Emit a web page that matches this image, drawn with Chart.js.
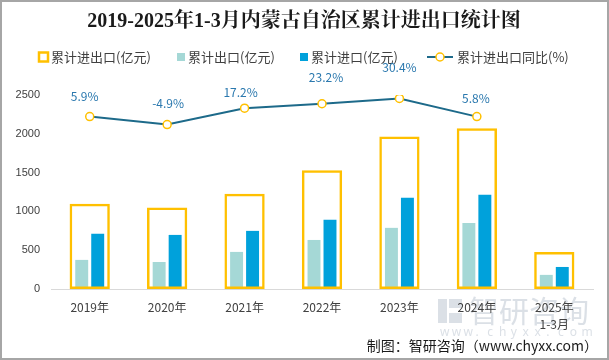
<!DOCTYPE html>
<html>
<head>
<meta charset="utf-8">
<script src="https://cdn.jsdelivr.net/npm/chart.js@4.4.1/dist/chart.umd.min.js"></script>
<style>
  html, body { margin: 0; padding: 0; background: #fff; }
  #wrap { width: 609px; height: 360px; position: relative; }
</style>
</head>
<body>
<div id="wrap"><canvas id="chart" width="609" height="360"></canvas></div>
<script>
// data
const years = ["2019年", "2020年", "2021年", "2022年", "2023年", "2024年", ["2025年", "1-3月"]];
const totalValues = [1098, 1050, 1228, 1530, 1966, 2070, 477];
const exportValues = [375, 348, 478, 632, 788, 852, 182];
const importValues = [712, 697, 749, 891, 1176, 1215, 284];
const growthRates = [5.9, -4.9, 17.2, 23.2, 30.4, 5.8, null];

const titleText = "2019-2025年1-3月内蒙古自治区累计进出口统计图";
const legendNames = ["累计进出口(亿元)", "累计出口(亿元)", "累计进口(亿元)", "累计进出口同比(%)"];
const sourceText = "制图：智研咨询（www.chyxx.com）";

const YELLOW = "#FFC000";
const TEAL = "#A5D8D6";
const BLUE = "#00A1DB";
const LINE = "#1D6A8A";
const TEXT = "#404040";
const SANS = "'Noto Sans CJK SC', 'Noto Sans', sans-serif";

// where the growth labels sit, relative to each category centre / point
const labelShift = [[-5, -20], [1, -21], [-4, -16], [4, -26], [0, -31], [-1, -18]];

// title, legend, watermark, footer and frame
const decorPlugin = {
  id: "decor",
  beforeDraw(chart) {
    const ctx = chart.ctx;
    ctx.save();
    // faint watermark behind everything
    ctx.fillStyle = "rgba(190,198,210,0.55)";
    ctx.fillRect(438, 299, 9, 24);
    ctx.fillRect(449, 299, 13, 9);
    ctx.fillRect(449, 313, 13, 10);
    ctx.font = "30px " + SANS;
    ctx.textAlign = "left";
    ctx.textBaseline = "middle";
    ctx.fillText("智研咨询", 469, 311);
    ctx.font = "12px 'Noto Sans', sans-serif";
    const w = "www.chyxx.com";
    for (let i = 0; i < w.length; i++) {
      ctx.fillText(w[i], 440 + i * 11.8, 333);
    }
    ctx.restore();
  },
  afterDraw(chart) {
    const ctx = chart.ctx;
    ctx.save();
    // title
    ctx.fillStyle = "#1a1a1a";
    ctx.font = "bold 20px 'Liberation Serif', 'Noto Serif CJK SC', 'Noto Sans CJK SC', serif";
    ctx.textAlign = "center";
    ctx.textBaseline = "middle";
    ctx.fillText(titleText, 304, 22);

    // legend
    ctx.font = "13px " + SANS;
    ctx.textAlign = "left";
    ctx.fillStyle = TEXT;
    const ly = 57;
    ctx.strokeStyle = YELLOW;
    ctx.lineWidth = 2.5;
    ctx.strokeRect(39, ly - 4.5, 9, 9);
    ctx.fillText(legendNames[0], 51, ly);
    ctx.fillStyle = TEAL;
    ctx.fillRect(177, ly - 4, 8, 8);
    ctx.fillStyle = TEXT;
    ctx.fillText(legendNames[1], 188, ly);
    ctx.fillStyle = BLUE;
    ctx.fillRect(300, ly - 4, 8, 8);
    ctx.fillStyle = TEXT;
    ctx.fillText(legendNames[2], 311, ly);
    ctx.strokeStyle = LINE;
    ctx.lineWidth = 2;
    ctx.beginPath();
    ctx.moveTo(427, ly);
    ctx.lineTo(453, ly);
    ctx.stroke();
    ctx.beginPath();
    ctx.arc(440, ly, 4, 0, Math.PI * 2);
    ctx.fillStyle = "#fff";
    ctx.fill();
    ctx.strokeStyle = YELLOW;
    ctx.lineWidth = 1.5;
    ctx.stroke();
    ctx.fillStyle = TEXT;
    ctx.fillText(legendNames[3], 457, ly);

    // growth labels above the line points
    const meta = chart.getDatasetMeta(3);
    const xScale = chart.scales.x;
    ctx.font = "12px " + SANS;
    ctx.fillStyle = "#2A78AE";
    ctx.textAlign = "center";
    meta.data.forEach((pt, i) => {
      if (growthRates[i] === null) return;
      const cx = xScale.getPixelForValue(i);
      ctx.fillText(growthRates[i].toFixed(1) + "%", cx + labelShift[i][0], pt.y + labelShift[i][1]);
    });

    // footer
    ctx.font = "14px " + SANS;
    ctx.fillStyle = "#1a1a1a";
    ctx.textAlign = "right";
    ctx.fillText(sourceText, 598, 346);

    // frame
    ctx.strokeStyle = "#A6A6A6";
    ctx.lineWidth = 2;
    ctx.strokeRect(1, 1, 607, 358);
    ctx.restore();
  }
};

function createChart() {
  const context = document.querySelector("#chart").getContext("2d");
  return new Chart(context, {
    type: "bar",
    data: {
      labels: years,
      datasets: [
        {
          label: legendNames[1],
          data: exportValues,
          backgroundColor: TEAL,
          categoryPercentage: 0.413,
          barPercentage: 0.81,
          order: 3
        },
        {
          label: legendNames[2],
          data: importValues,
          backgroundColor: BLUE,
          categoryPercentage: 0.413,
          barPercentage: 0.81,
          order: 3
        },
        {
          // the outline box sits over both bars, not beside them
          label: legendNames[0],
          data: totalValues,
          grouped: false,
          backgroundColor: "rgba(0,0,0,0)",
          borderColor: YELLOW,
          borderWidth: 2.5,
          borderSkipped: false,
          categoryPercentage: 1,
          barPercentage: 0.52,
          order: 2
        },
        {
          type: "line",
          label: legendNames[3],
          data: growthRates,
          borderColor: LINE,
          borderWidth: 2,
          pointRadius: 4,
          pointBackgroundColor: "#fff",
          pointBorderColor: YELLOW,
          pointBorderWidth: 1.5,
          tension: 0,
          yAxisID: "y1",
          order: 1
        }
      ]
    },
    options: {
      responsive: false,
      animation: false,
      layout: { padding: { left: 0, right: 16, top: 95, bottom: 0 } },
      plugins: {
        legend: { display: false },
        title: { display: false },
        tooltip: { enabled: false }
      },
      scales: {
        x: {
          offset: true,
          grid: { display: false, drawTicks: false },
          border: { display: true, color: "#D9D9D9", width: 1 },
          ticks: {
            color: TEXT,
            padding: 10,
            maxRotation: 0,
            autoSkip: false,
            font: { family: SANS, size: 12, lineHeight: 1.4 }
          },
          afterFit(scale) { scale.height = 71; }
        },
        y: {
          min: 0,
          max: 2500,
          grid: { display: false, drawTicks: false },
          border: { display: false },
          ticks: {
            stepSize: 500,
            color: TEXT,
            padding: 11,
            font: { family: "'Liberation Sans', 'Noto Sans', sans-serif", size: 11 },
            callback: (v) => String(v)
          },
          afterFit(scale) { scale.width = 51; }
        },
        y1: {
          min: -227,
          max: 35,
          display: false
        }
      }
    },
    plugins: [decorPlugin]
  });
}

createChart();
</script>
</body>
</html>
